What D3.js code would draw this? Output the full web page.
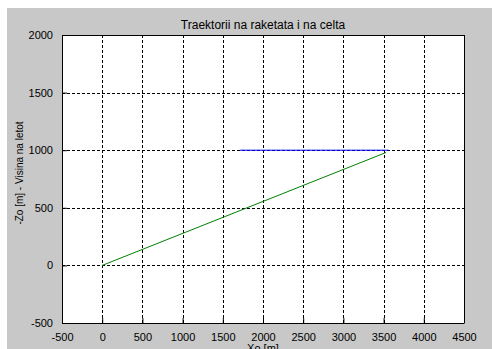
<!DOCTYPE html>
<html>
<head>
<meta charset="utf-8">
<script src="https://cdn.jsdelivr.net/npm/d3@7"></script>
<style>
  body { margin: 0; background: #fff; }
  svg { display: block; }
  text { font-family: "Liberation Sans", Arial, sans-serif; fill: #000; }
</style>
</head>
<body>
<svg id="chart"></svg>
<script>
// chart values
const xTicks = [-500, 0, 500, 1000, 1500, 2000, 2500, 3000, 3500, 4000, 4500];
const yTicks = [-500, 0, 500, 1000, 1500, 2000];
const targetX = [1710, 3560];   // celta (blue)
const targetZ = [1000, 1000];
const rocketX = [0, 3530];      // raketa (green)
const rocketZ = [0, 980];

const W = 492, H = 349;
const margin = { top: 35, left: 62, right: 28, bottom: 26 };

const svg = d3.select('#chart').attr('width', W).attr('height', H);

// grey figure background
svg.append('rect')
    .attr('x', 7).attr('y', 8)
    .attr('width', W - 7).attr('height', H - 8)
    .attr('fill', '#c8c8c8');

const x = d3.scaleLinear().domain([-500, 4500]).range([margin.left, W - margin.right]);
const y = d3.scaleLinear().domain([-500, 2000]).range([H - margin.bottom, margin.top]);

svg.append('rect')
    .attr('x', x(-500)).attr('y', y(2000))
    .attr('width', x(4500) - x(-500)).attr('height', y(-500) - y(2000))
    .attr('fill', '#fff');

// dotted grid
const grid = svg.append('g').attr('stroke', '#000').attr('stroke-width', 1)
    .attr('stroke-dasharray', '3,2').attr('shape-rendering', 'crispEdges');
grid.selectAll('.gx').data(xTicks.slice(1, -1)).enter().append('line')
    .attr('x1', d => Math.round(x(d)) + 0.5).attr('x2', d => Math.round(x(d)) + 0.5)
    .attr('y1', y(2000)).attr('y2', y(-500));
grid.selectAll('.gy').data(yTicks.slice(1, -1)).enter().append('line')
    .attr('y1', d => Math.round(y(d)) + 0.5).attr('y2', d => Math.round(y(d)) + 0.5)
    .attr('x1', x(-500)).attr('x2', x(4500));

// axes, matlab style: inward ticks, plain numbers
const fmt = d => String(d);
const xAxis = svg.append('g')
    .attr('transform', `translate(0,${y(-500)})`)
    .call(d3.axisBottom(x).tickValues(xTicks).tickFormat(fmt).tickSizeInner(-5).tickSizeOuter(0).tickPadding(10));
const yAxis = svg.append('g')
    .attr('transform', `translate(${x(-500)},0)`)
    .call(d3.axisLeft(y).tickValues(yTicks).tickFormat(fmt).tickSizeInner(-5).tickSizeOuter(0).tickPadding(9));
[xAxis, yAxis].forEach(a => {
    a.select('.domain').attr('stroke', '#000');
    a.selectAll('.tick line').attr('stroke', '#000');
    a.selectAll('text').style('font-size', '11px').style('font-family', '"Liberation Sans", Arial, sans-serif');
});

// box top and right
svg.append('line').attr('x1', x(-500)).attr('x2', x(4500)).attr('y1', y(2000) + 0.5).attr('y2', y(2000) + 0.5)
    .attr('stroke', '#000');
svg.append('line').attr('x1', x(4500) + 0.5).attr('x2', x(4500) + 0.5).attr('y1', y(2000)).attr('y2', y(-500))
    .attr('stroke', '#000');

const line = d3.line().x(d => x(d[0])).y(d => y(d[1]));

svg.append('path')
    .datum(d3.zip(targetX, targetZ))
    .attr('d', line).attr('fill', 'none').attr('stroke', '#0000ff').attr('stroke-width', 1);
svg.append('path')
    .datum(d3.zip(rocketX, rocketZ))
    .attr('d', line).attr('fill', 'none').attr('stroke', '#008000').attr('stroke-width', 1);

// texts
const cx = (x(-500) + x(4500)) / 2;
svg.append('text').attr('x', cx).attr('y', 29).attr('text-anchor', 'middle')
    .style('font-size', '12px').text('Traektorii na raketata i na celta');
svg.append('text').attr('x', cx).attr('y', 352).attr('text-anchor', 'middle')
    .style('font-size', '11px').text('Xo [m]');
svg.append('text')
    .attr('transform', 'translate(23,173) rotate(-90)')
    .attr('text-anchor', 'middle')
    .style('font-size', '10px').text('-Zo [m] - Visina na letot');
</script>
</body>
</html>
